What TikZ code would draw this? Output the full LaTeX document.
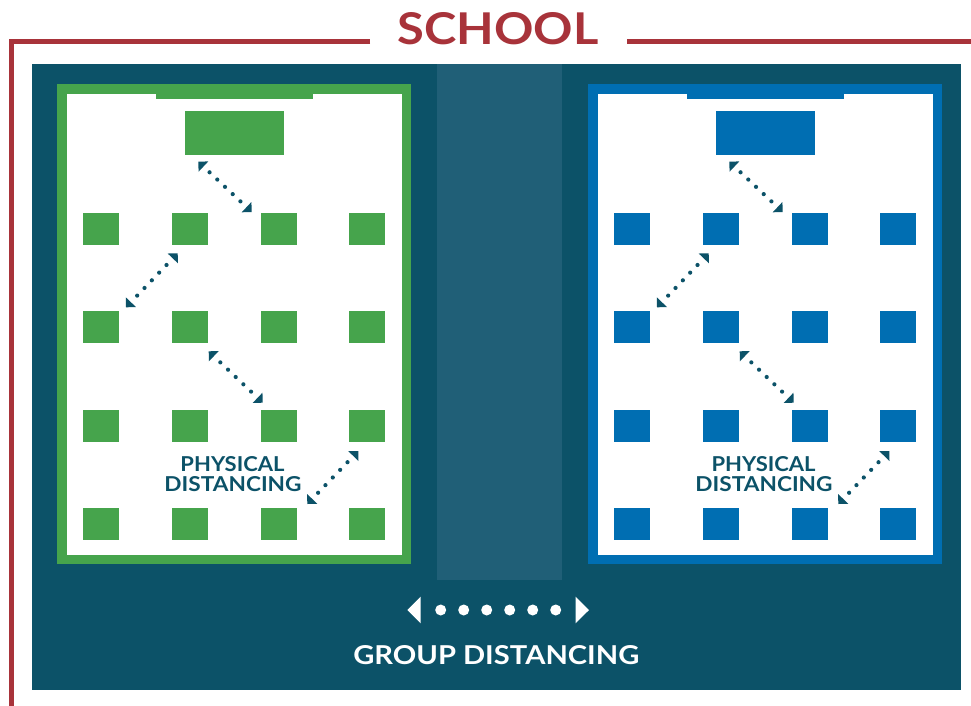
\documentclass[tikz,border=0pt]{standalone}
\usepackage{fontspec}
\usepackage{graphicx}
\setmainfont{Lato}
\usetikzlibrary{arrows.meta,calc}
\definecolor{schoolred}{RGB}{168,51,58}
\definecolor{bgteal}{RGB}{12,82,104}
\definecolor{hall}{RGB}{32,95,119}
\definecolor{cgreen}{RGB}{70,164,76}
\definecolor{cblue}{RGB}{0,110,178}
\begin{document}
\begin{tikzpicture}[x=1pt,y=-1pt,
  desk/.style={fill=#1, draw=none, inner sep=0pt, outer sep=0pt, minimum width=36pt, minimum height=32pt, anchor=north west},
  ptext/.style={text=bgteal, font=\bfseries, inner sep=0pt, outer sep=0pt},
  distarrow/.style={draw=bgteal, line width=4.2pt, line cap=round, dash pattern=on 0pt off 10.6pt,
    {Triangle[length=7.07pt,width=14.14pt,line width=0pt]}-{Triangle[length=7.07pt,width=14.14pt,line width=0pt]}},
  grouparrow/.style={draw=white, line width=11pt, line cap=round, dash pattern=on 0pt off 23pt, dash phase=3pt,
    {Triangle[length=13.4pt,width=26.6pt,line width=0pt]}-{Triangle[length=13.4pt,width=26.6pt,line width=0pt]}}]
\useasboundingbox (0,0) rectangle (971,706);
\fill[white] (0,0) rectangle (971,706);
% school frame
\draw[schoolred, line width=5.3pt] (370,41.5) -- (11.75,41.5) -- (11.75,710);
\draw[schoolred, line width=5.3pt] (627,41.5) -- (975,41.5);
\node[text=schoolred, font=\bfseries, inner sep=0pt] (title) at (497.8,28.9) {\resizebox{201pt}{32pt}{SCHOOL}};
% school ground and hallway
\fill[bgteal] (32,64) rectangle (961,689.5);
\fill[hall] (437,64) rectangle (562,579.5);
% classrooms
\foreach \dx/\c/\s in {0/cgreen/L, 531/cblue/R} {
  \begin{scope}[xshift=\dx pt]
    \fill[\c] (57.3,84) rectangle (410.7,564.3);
    \fill[white] (66.7,94) rectangle (401.5,555);
    \fill[\c] (156,94) rectangle (312.7,98.7);
    \node[desk=\c, minimum width=99pt, minimum height=43.7pt] (teacher\s) at (185,111) {};
    \foreach \col/\xx in {1/83,2/172,3/261,4/349} {
      \foreach \row/\yy in {1/213,2/311,3/410,4/508} {
        \node[desk=\c] (d\s\row\col) at (\xx,\yy) {};
      }
    }
    \node[ptext] (phys\s) at (232.5,464.5) {\resizebox{104pt}{15pt}{PHYSICAL}};
    \node[ptext] (dist\s) at (233,484.5) {\resizebox{137pt}{15pt}{DISTANCING}};
    \foreach \n/\ax/\ay/\bx/\by/\ph in {1/198.3/161.7/251.7/212/2.2, 2/126/307.3/177.7/253.3/1.5, 3/208.7/351.3/262.7/402.7/1.6, 4/307.3/504/358.3/451/2.1} {
      \coordinate (p\s\n a) at (\ax,\ay);
      \coordinate (p\s\n b) at (\bx,\by);
      \draw[distarrow, dash phase=\ph pt] (p\s\n a) -- (p\s\n b);
    }
  \end{scope}
}
% group distancing
\coordinate (gl) at (407.3,610);
\coordinate (gr) at (589,610);
\draw[grouparrow] (gl) -- (gr);
\node[text=white, font=\bfseries, inner sep=0pt] (group) at (496.3,655.2) {\resizebox{286pt}{19pt}{GROUP DISTANCING}};
\end{tikzpicture}
\end{document}
